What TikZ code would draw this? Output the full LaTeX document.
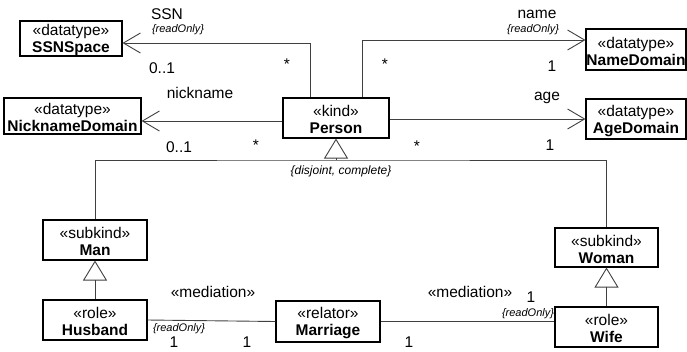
\documentclass[tikz,border=0pt]{standalone}
\usepackage{fontspec}
\setmainfont{Liberation Sans}
\usetikzlibrary{arrows.meta}
% two-line class compartment: stereotype over bold name, set a little low in the box
\newcommand\classtext[2]{\rule{0pt}{14.5pt}«#1»\\\textbf{#2}}
\begin{document}
\begin{tikzpicture}[x=1pt,y=-1pt,
  cls/.style={draw=black, line width=1.1pt, inner sep=0pt, align=center,
              font=\fontsize{15.5}{17}\selectfont},
  conn/.style={draw=black!75, line width=0.9pt},
  nav/.style={conn, -{Straight Barb[length=17pt,width=20pt,line width=0.9pt]}},
  gen/.style={conn, -{Triangle[open,length=20pt,width=24pt,line width=0.9pt]}},
  lbl/.style={anchor=base, inner sep=0pt, font=\fontsize{15.5}{17}\selectfont},
  prop/.style={anchor=base, inner sep=0pt, font=\fontsize{11}{12}\selectfont\itshape},
  gset/.style={anchor=base, inner sep=0pt, font=\fontsize{12}{13}\selectfont\itshape},
]
\useasboundingbox (0,0) rectangle (687,351);

% classes
\node[cls, minimum width=102pt, minimum height=35pt] (ssn) at (71,38.5) {\classtext{datatype}{SSNSpace}};
\node[cls, minimum width=137pt, minimum height=36pt] (nick) at (72.5,116) {\classtext{datatype}{NicknameDomain}};
\node[cls, minimum width=106pt, minimum height=40pt] (person) at (336,118) {\classtext{kind}{Person}};
\node[cls, minimum width=100pt, minimum height=41pt] (namedom) at (636,49.5) {\classtext{datatype}{NameDomain}};
\node[cls, minimum width=100pt, minimum height=40pt] (agedom) at (636,119) {\classtext{datatype}{AgeDomain}};
\node[cls, minimum width=104pt, minimum height=40pt] (man) at (95,240) {\classtext{subkind}{Man}};
\node[cls, minimum width=104pt, minimum height=40pt] (husband) at (95,320) {\classtext{role}{Husband}};
\node[cls, minimum width=104pt, minimum height=41pt] (marriage) at (328,321.5) {\classtext{relator}{Marriage}};
\node[cls, minimum width=103pt, minimum height=39pt] (woman) at (606.5,247.5) {\classtext{subkind}{Woman}};
\node[cls, minimum width=103pt, minimum height=40pt] (wife) at (606.5,327) {\classtext{role}{Wife}};

% attribute associations
\draw[nav] ([xshift=-26pt]person.north) |- ([yshift=-4.5pt]ssn.east);
\draw[nav] ([xshift=26pt]person.north) |- ([yshift=9.5pt]namedom.west);
\draw[nav] ([yshift=-3pt]person.west) -- ([yshift=-3pt]person.west -| nick.east);
\draw[nav] (agedom.west -| person.east) -- (agedom.west);

% generalization set
\coordinate (gj) at (336,160);
\draw[gen] (gj) -- (person.south);
\draw[conn] (man.north) |- (gj) -| (woman.north);
\draw[gen] (husband.north) -- (man.south);
\draw[gen] (wife.north) -- (woman.south);

% mediations
\draw[conn] (husband.east) -- (marriage.west);
\draw[conn] (marriage.east) -- (marriage.east -| wife.west);

% association end labels
\node[lbl] (lssn) at (167,19) {SSN};
\node[prop] (rossn) at (178,32) {\{readOnly\}};
\node[lbl] (mssn) at (162,73) {0..1};
\node[lbl] (sssn) at (287,69.5) {*};
\node[lbl] (lnick) at (200,98) {nickname};
\node[lbl] (mnick) at (179,152) {0..1};
\node[lbl] (snick) at (256,150) {*};
\node[lbl] (lname) at (537,18) {name};
\node[prop] (roname) at (533,32) {\{readOnly\}};
\node[lbl] (sname) at (385,69) {*};
\node[lbl] (mname) at (552,71) {1};
\node[lbl] (lage) at (547,100) {age};
\node[lbl] (sage) at (417,151) {*};
\node[lbl] (mage) at (550,150) {1};
\node[gset] (gsl) at (341,174) {\{disjoint, complete\}};

\node[lbl] (medl) at (213,297) {«mediation»};
\node[lbl] (medr) at (470,297) {«mediation»};
\node[lbl] (mwife) at (531,302) {1};
\node[prop] (rowife) at (528,316) {\{readOnly\}};
\node[prop] (rohus) at (179,331) {\{readOnly\}};
\node[lbl] (mhus) at (174,347.5) {1};
\node[lbl] (mmarl) at (247,347.5) {1};
\node[lbl] (mmarr) at (409,347.5) {1};
\end{tikzpicture}
\end{document}
